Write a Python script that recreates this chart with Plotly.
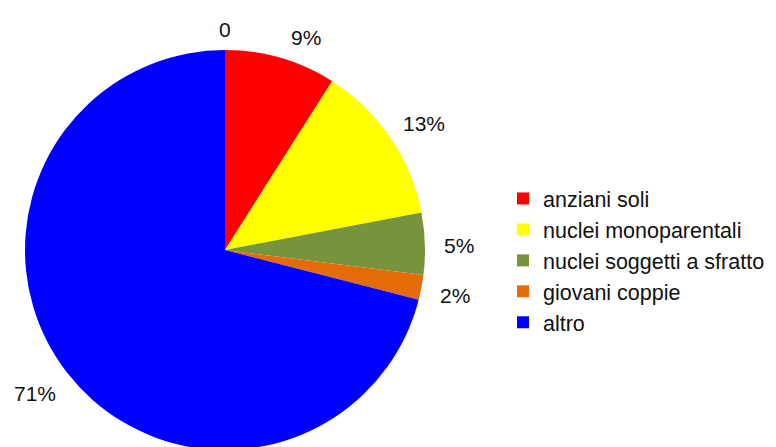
import math
import plotly.graph_objects as go

categories = ["anziani soli", "nuclei monoparentali", "nuclei soggetti a sfratto", "giovani coppie", "altro"]
values = [9, 13, 5, 2, 71]
colors = ["#FF0000", "#FFFF00", "#77933C", "#E36C09", "#0000FF"]
# extra empty slice shown only as a "0" label in the reference
extra_label_text = "0"
extra_value = 0

W, H = 776, 450
R = 200
cx, cy = 225, 250  # pixels from top-left

FONT = "Liberation Sans, Arial, sans-serif"
LABEL_SIZE = 21

fig = go.Figure()
fig.add_trace(go.Pie(
    labels=categories,
    values=values,
    marker=dict(colors=colors, line=dict(width=0)),
    sort=False,
    direction="clockwise",
    rotation=0,
    textinfo="none",
    hoverinfo="label+percent",
    domain=dict(x=[(cx - R) / W, (cx + R) / W], y=[(H - cy - R) / H, (H - cy + R) / H]),
))

# percentage labels placed outside the slices (Excel-like: box placed just beyond the rim)
total = sum(values) + extra_value
all_vals = values + [extra_value]
all_texts = [f"{v}%" for v in values] + [extra_label_text]
angle_nudge = {0: 4.0}  # first label is pushed away from the "0" label
cum = 0
for i, (v, t) in enumerate(zip(all_vals, all_texts)):
    a = 219 if v > 0 else 212
    mid_deg = (cum + v / 2) / total * 360 + angle_nudge.get(i, 0.0)
    cum += v
    th = math.radians(mid_deg)
    ux, uy = math.sin(th), -math.cos(th)
    w = 0.56 * LABEL_SIZE * (len(t) - t.count("%")) + 0.89 * LABEL_SIZE * t.count("%")
    h = LABEL_SIZE
    px = cx + a * ux + w / 2 * ux
    py = cy + a * uy + h / 2 * uy + 2.5
    fig.add_annotation(x=px / W, y=1 - py / H, xref="paper", yref="paper",
                       text=t, showarrow=False,
                       font=dict(family=FONT, size=LABEL_SIZE, color="#111111"),
                       xanchor="center", yanchor="middle")

fig.update_layout(
    width=W, height=H,
    margin=dict(l=0, r=0, t=0, b=0),
    paper_bgcolor="white",
    plot_bgcolor="white",
    showlegend=True,
    legend=dict(x=503 / W, y=1 - 178 / H, xanchor="left", yanchor="top",
                font=dict(family=FONT, size=21.5, color="#111111"),
                itemsizing="constant", tracegroupgap=0, bgcolor="rgba(0,0,0,0)"),
)

fig.write_html("out.html", config={"displayModeBar": False},
               post_script="document.body.style.margin='0';document.body.style.overflow='hidden';")
